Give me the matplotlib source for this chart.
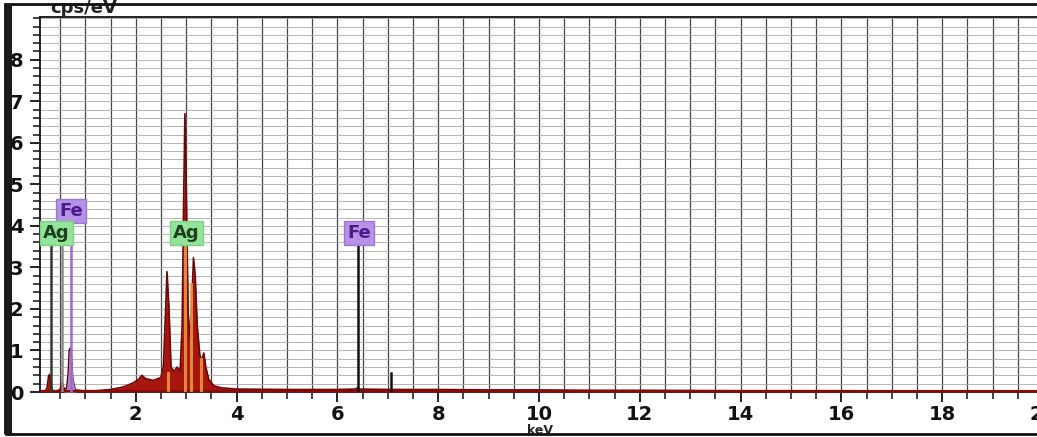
import numpy as np
import matplotlib
matplotlib.use("Agg")
import matplotlib.pyplot as plt
from matplotlib.patches import Rectangle
from matplotlib.ticker import MultipleLocator

# ---- data ----
energy_keV = [0.10, 0.20, 0.24, 0.27, 0.29, 0.31, 0.35, 0.42, 0.50, 0.53,
              0.55, 0.58, 0.63, 0.66, 0.68, 0.70, 0.72, 0.75, 0.80, 0.95,
              1.20, 1.50, 1.75, 1.95, 2.05, 2.12, 2.20, 2.35, 2.50, 2.55,
              2.59, 2.62, 2.66, 2.70, 2.76, 2.82, 2.88, 2.92, 2.95, 2.975,
              3.00, 3.04, 3.08, 3.11, 3.145, 3.18, 3.22, 3.27, 3.31, 3.35,
              3.39, 3.45, 3.55, 3.70, 4.00, 5.00, 6.00, 6.35, 6.40, 6.45,
              7.00, 8.00, 9.00, 10.00, 11.00, 12.00, 14.00, 16.00, 18.00, 20.10]
counts_cps_eV = [0.00, 0.02, 0.10, 0.38, 0.42, 0.20, 0.04, 0.02, 0.06, 0.22,
                 0.20, 0.06, 0.10, 0.45, 1.00, 1.05, 0.90, 0.30, 0.05, 0.03,
                 0.03, 0.06, 0.12, 0.22, 0.30, 0.40, 0.32, 0.28, 0.35, 0.65,
                 1.90, 2.90, 2.00, 0.60, 0.50, 0.60, 0.50, 1.60, 4.60, 6.70,
                 5.10, 1.90, 1.30, 2.10, 3.23, 2.80, 1.60, 0.90, 0.75, 0.94,
                 0.60, 0.30, 0.15, 0.10, 0.07, 0.06, 0.06, 0.07, 0.10, 0.07,
                 0.06, 0.06, 0.05, 0.05, 0.04, 0.04, 0.03, 0.03, 0.02, 0.02]

# element marker lines (position keV, top cps/eV, colour)
marker_pos = [0.31, 0.54, 0.71, 6.40, 7.06]
marker_top = [3.60, 3.50, 3.60, 3.60, 0.45]
marker_col = ["#2f3a2a", "#8a8a8a", "#9a6ad0", "#111111", "#111111"]

# lighter line cores inside the Ag peaks
core_pos = [2.64, 2.97, 3.10, 3.30]
core_top = [0.45, 3.60, 2.60, 0.80]

# labels
label_text = ["Fe", "Ag", "Ag", "Fe"]
label_x = [0.72, 0.42, 3.00, 6.43]
label_y = [4.36, 3.83, 3.83, 3.83]
label_kind = ["Fe", "Ag", "Ag", "Fe"]

x_major = [2, 4, 6, 8, 10, 12, 14, 16, 18, 20]
y_major = [0, 1, 2, 3, 4, 5, 6, 7, 8]

# ---- figure ----
W, H = 1037, 437
fig = plt.figure(figsize=(W / 100, H / 100), dpi=100)
fig.patch.set_facecolor("white")

ax_left, ax_bottom, ax_top = 40, 392, 17
ax_right = 40 + (20.1 - 0.1) * 50.4
ax = fig.add_axes([ax_left / W, (H - ax_bottom) / H,
                   (ax_right - ax_left) / W, (ax_bottom - ax_top) / H])
ax.set_xlim(0.1, 20.1)
ax.set_ylim(0, 9.03)

e = np.array(energy_keV)
c = np.array(counts_cps_eV)

ax.fill_between(e, 0, c, color="#a8140e", lw=0, zorder=3)
ax.plot(e, c, color="#6e0606", lw=1.2, zorder=4)
fe_mask = (e >= 0.62) & (e <= 0.78)
ax.fill_between(e, 0, c, where=fe_mask, color="#a985d8", lw=0, zorder=4,
                interpolate=True)
ax.plot([0.1, 20.1], [0, 0], color="#8a0a08", lw=3, zorder=4)

for p, t in zip(core_pos, core_top):
    ax.plot([p, p], [0, t], color="#e9a040", lw=2.2, alpha=0.85, zorder=5)

for p, t, col in zip(marker_pos, marker_top, marker_col):
    ax.plot([p, p], [0, t], color=col, lw=1.8, zorder=5)

styles = {"Fe": dict(fc="#b592e6", ec="#9b78d2", tc="#4a1a8c"),
          "Ag": dict(fc="#93e39a", ec="#7ccf84", tc="#1f3f1f")}
for txt, x, y, kind in zip(label_text, label_x, label_y, label_kind):
    s = styles[kind]
    ax.text(x, y, txt, ha="center", va="center", fontsize=13,
            fontweight="bold", color=s["tc"], zorder=7, clip_on=False,
            bbox=dict(boxstyle="square,pad=0.18", fc=s["fc"], ec=s["ec"],
                      lw=1))

# grid
ax.xaxis.set_major_locator(plt.FixedLocator(x_major))
ax.xaxis.set_minor_locator(MultipleLocator(0.5))
ax.yaxis.set_major_locator(plt.FixedLocator(y_major))
ax.yaxis.set_minor_locator(MultipleLocator(0.2))
ax.grid(True, which="both", axis="x", color="#444444", lw=0.9, zorder=1)
ax.grid(True, which="both", axis="y", color="#a8a8a8", lw=0.6, zorder=1)

ax.tick_params(axis="both", which="major", direction="out", length=7,
               width=1.3, labelsize=14, pad=5, colors="#111111")
ax.tick_params(axis="x", which="major", pad=2)
ax.tick_params(axis="both", which="minor", direction="out", length=5,
               width=1.1, colors="#111111")
for lab in ax.get_xticklabels() + ax.get_yticklabels():
    lab.set_fontweight("bold")

for side in ["left", "bottom", "top"]:
    ax.spines[side].set_color("#111111")
    ax.spines[side].set_linewidth(1.3)
ax.spines["right"].set_visible(False)

fig.text(50 / W, 1 - 8 / H, "cps/eV", ha="left", va="center",
         fontsize=13, fontweight="bold", color="#222222")
fig.text(540 / W, 1 - 424 / H, "keV", ha="center", va="top",
         fontsize=9, fontweight="bold", color="#222222")

# outer frame of the screenshot
fig.add_artist(Rectangle((5 / W, 3 / H), 1.1, (H - 7) / H,
                         transform=fig.transFigure, fill=False,
                         ec="#111111", lw=2, zorder=21))
fig.add_artist(Rectangle((6 / W, 3 / H), 6 / W, (H - 7) / H,
                         transform=fig.transFigure, fc="#1a1a1a",
                         ec="none", zorder=21))

fig.savefig("out.png", dpi=100)
